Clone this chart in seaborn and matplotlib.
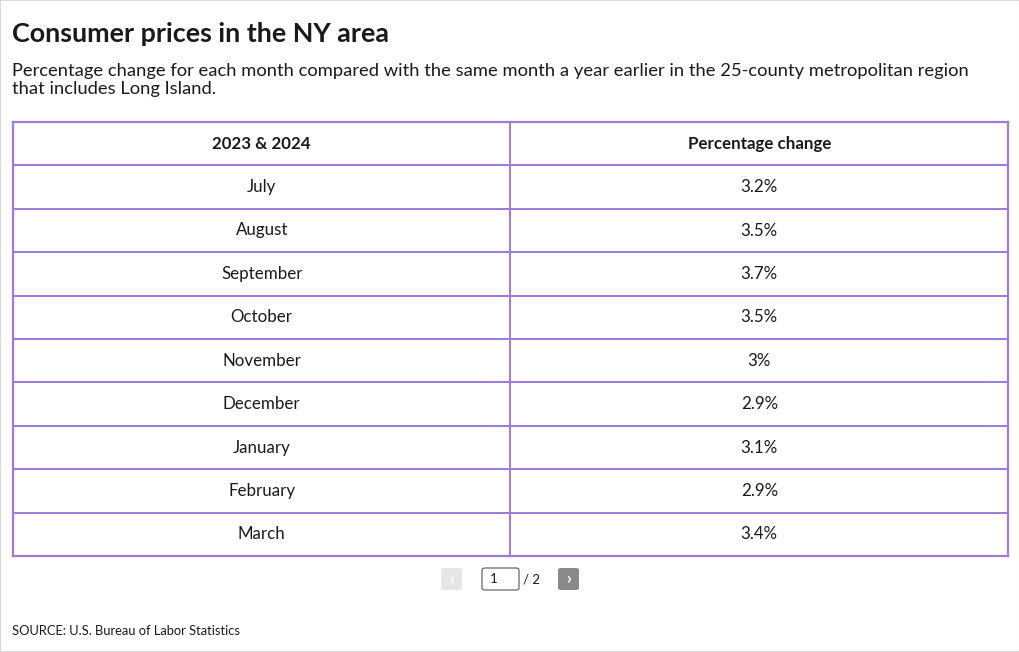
import numpy as np
import pandas as pd
import seaborn as sns
import matplotlib.pyplot as plt
from matplotlib.colors import ListedColormap
from matplotlib.patches import Rectangle, FancyBboxPatch

# table data
header = ["2023 & 2024", "Percentage change"]
months = ["July", "August", "September", "October", "November",
          "December", "January", "February", "March"]
pct_change = [3.2, 3.5, 3.7, 3.5, 3.0, 2.9, 3.1, 2.9, 3.4]
page, n_pages = 1, 2

sns.set_theme(style="white")
plt.rcParams['font.family'] = ['Lato', 'DejaVu Sans']

W, H = 1020, 652
fig = plt.figure(figsize=(W / 100, H / 100), dpi=100)
fig.patch.set_facecolor("white")

def fx(px):
    return px / W

def fy(py):
    return 1 - py / H

purple = "#a27ad9"
ink = "#1a1a1a"

# table as a heatmap of blank cells with text annotations
df = pd.DataFrame({header[0]: months, header[1]: [f"{v:g}%" for v in pct_change]})
labels = np.vstack([np.array(header)[None, :], df.values])
cells = np.zeros(labels.shape)

ax = fig.add_axes([fx(13), fy(556), fx(1008) - fx(13), fy(122) - fy(556)])
sns.heatmap(cells, ax=ax, cmap=ListedColormap(["white"]), cbar=False,
            annot=labels, fmt="", linewidths=1.4, linecolor=purple,
            xticklabels=False, yticklabels=False,
            annot_kws={"fontsize": 12.2, "color": ink})
for t in ax.texts[:2]:
    t.set_fontweight("bold")
for s in ax.spines.values():
    s.set_visible(True)
    s.set_color(purple)
    s.set_linewidth(1.6)

# title and subtitle
fig.text(fx(12), fy(34), "Consumer prices in the NY area", fontsize=19.4,
         fontweight="bold", color=ink, va="center")
fig.text(fx(12), fy(71), "Percentage change for each month compared with the same "
         "month a year earlier in the 25-county metropolitan region",
         fontsize=13.25, color=ink, va="center")
fig.text(fx(12), fy(89), "that includes Long Island.", fontsize=13.25,
         color=ink, va="center")

# pagination controls
def box(x0, y0, x1, y1, fc, ec, lw=0):
    p = FancyBboxPatch((fx(x0), fy(y1)), fx(x1) - fx(x0), fy(y0) - fy(y1),
                       boxstyle="round,pad=0,rounding_size=0.003",
                       transform=fig.transFigure, facecolor=fc,
                       edgecolor=ec, linewidth=lw)
    fig.patches.append(p)

box(441, 568, 462, 590, "#e6e6e6", "none")
fig.text(fx(451.5), fy(579), "‹", color="white", fontsize=12,
         fontweight="bold", ha="center", va="center")
box(482, 568, 519, 590, "white", "#555555", 0.8)
fig.text(fx(490), fy(579), str(page), color=ink, fontsize=9.5, va="center")
fig.text(fx(523), fy(579), f"/ {n_pages}", color=ink, fontsize=9.5, va="center")
box(558, 568, 579, 590, "#8a8a8a", "none")
fig.text(fx(568.5), fy(579), "›", color="white", fontsize=12,
         fontweight="bold", ha="center", va="center")

fig.text(fx(12), fy(631), "SOURCE: U.S. Bureau of Labor Statistics",
         fontsize=9.3, color=ink, va="center")

# light frame around the graphic
fig.patches.append(Rectangle((0, 0), 1, 1, transform=fig.transFigure,
                             fill=False, edgecolor="#d9d9d9", linewidth=1.5))

fig.savefig("out.png", dpi=100, facecolor="white")
